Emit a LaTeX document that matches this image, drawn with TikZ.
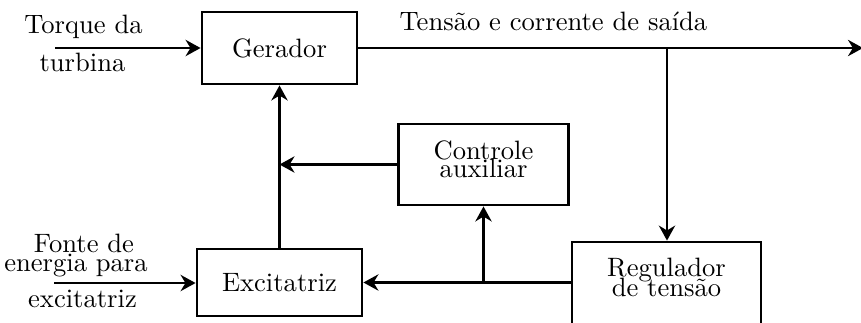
\documentclass[tikz,border=0pt]{standalone}
\usetikzlibrary{arrows.meta}
\newcommand{\pxu}{0.3875pt}
\begin{document}
\begin{tikzpicture}[x=0.3875pt, y=-0.3875pt,
  every node/.style={font=\fontsize{10.3}{12}\selectfont},
  box/.style={draw, line width=1.1pt, align=center, inner sep=0pt},
  lbl/.style={anchor=base, inner sep=0pt},
  conn/.style={line width=1.1pt},
  arr/.style={conn, -{Stealth[length=5.8pt,width=6.3pt]}}]
\useasboundingbox (0,0) rectangle (861,322);
\clip (0,0) rectangle (861,322);
% boxes
\node[box, minimum width=155*\pxu, minimum height=72*\pxu] (gerador) at (279.5,48) {Gerador};
\node[box, minimum width=165*\pxu, minimum height=67*\pxu] (excit) at (279.5,282.5) {Excitatriz};
\node[box, minimum width=170*\pxu, minimum height=81*\pxu] (controle) at (483.5,164.5)
  {\raisebox{0.8pt}[\height][\depth]{\begin{tabular}{@{}c@{}}Controle\\[-5.3pt]auxiliar\end{tabular}}};
\node[box, minimum width=189*\pxu, minimum height=84*\pxu] (regulador) at (666.5,284)
  {\raisebox{1.5pt}[\height][\depth]{\begin{tabular}{@{}c@{}}Regulador\\[-4.3pt]de tensão\end{tabular}}};
% labels
\node[lbl] (torque1) at (83.5,33) {Torque da};
\node[lbl] (torque2) at (82.5,71.5) {turbina};
\node[lbl] (saida) at (553.5,30) {Tensão e corrente de saída};
\node[lbl] (fonte1) at (84,252) {Fonte de};
\node[lbl] (fonte2) at (76,271) {energia para};
\node[lbl] (fonte3) at (82.5,307.5) {excitatriz};
% free ends
\coordinate (torqueIn) at (55,48);
\coordinate (fonteIn) at (54,283);
\coordinate (outEnd) at (863,48);
\coordinate (br1) at (667,48);
% connectors
\draw[arr] (torqueIn) -- (torqueIn -| gerador.west);
\draw[arr] (gerador.east) -- (outEnd);
\draw[arr] (br1) -- (br1 |- regulador.north);
\draw[arr] (excit.north) -- (gerador.south);
\draw[arr] (controle.west) -- (controle.west -| excit.north);
\draw[arr] (regulador.west |- excit.east) -- (excit.east);
\draw[arr] (controle.south |- excit.east) -- (controle.south);
\draw[arr] (fonteIn) -- (fonteIn -| excit.west);
\end{tikzpicture}
\end{document}
